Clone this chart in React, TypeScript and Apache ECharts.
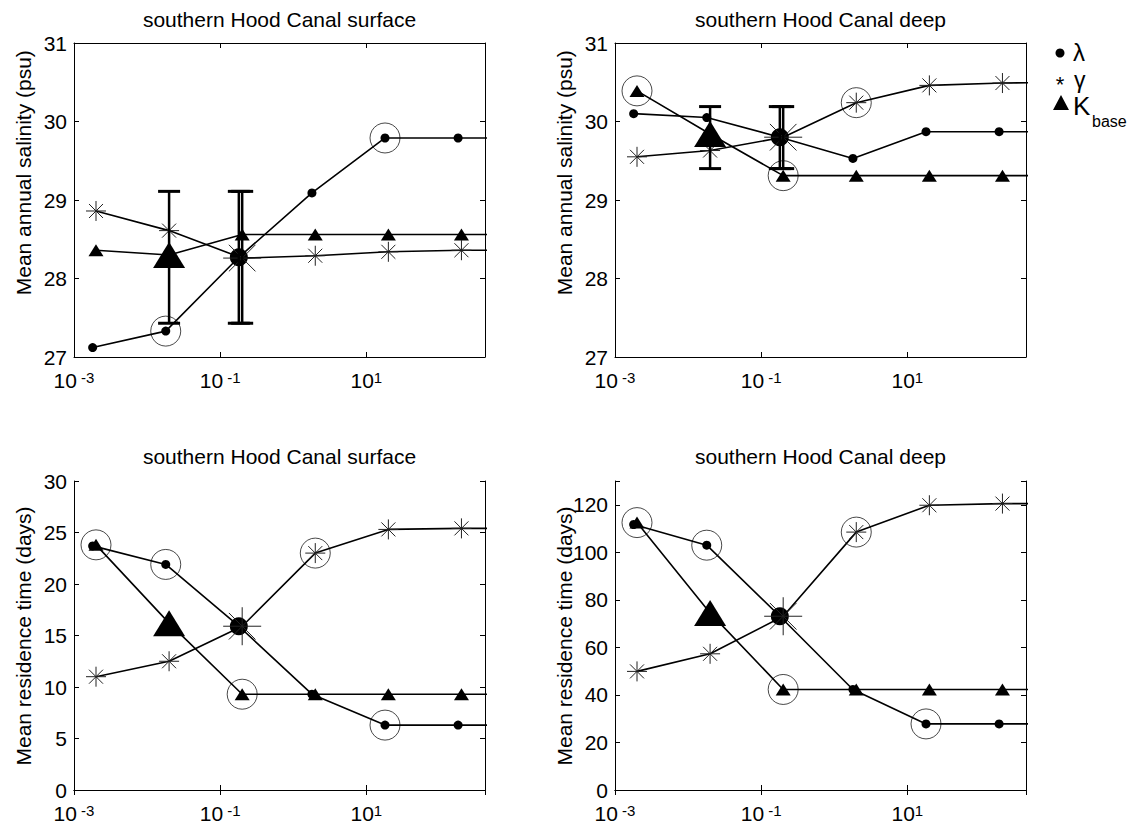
import React, { useEffect, useRef } from 'react';
import * as echarts from 'echarts';

// x positions of the parameter values (log scale); last point lies beyond the axis
const xLambda = [0.0018, 0.018, 0.18, 1.8, 18, 180, 1800];
const xGamma = [0.002, 0.02, 0.2, 2, 20, 200, 2000];
const xK = [0.002, 0.02, 0.2, 2, 20, 200, 2000];

// base-case index per parameter (drawn with large marker)
const baseLambda = 2;
const baseGamma = 2;
const baseK = 1;

// salinity, surface
const salSurfLambda = [27.12, 27.33, 28.27, 29.09, 29.79, 29.79, 29.79];
const salSurfGamma = [28.86, 28.61, 28.26, 28.29, 28.34, 28.36, 28.36];
const salSurfK = [28.36, 28.3, 28.56, 28.56, 28.56, 28.56, 28.56];
// salinity, deep
const salDeepLambda = [30.1, 30.05, 29.8, 29.53, 29.87, 29.87, 29.87];
const salDeepGamma = [29.55, 29.63, 29.8, 30.24, 30.46, 30.49, 30.5];
const salDeepK = [30.39, 29.84, 29.31, 29.31, 29.31, 29.31, 29.31];
// residence time, surface
const resSurfLambda = [23.7, 21.9, 15.9, 9.3, 6.3, 6.3, 6.3];
const resSurfGamma = [11.0, 12.5, 15.9, 23.0, 25.3, 25.4, 25.4];
const resSurfK = [23.8, 16.2, 9.3, 9.3, 9.3, 9.3, 9.3];
// residence time, deep
const resDeepLambda = [111.7, 103.0, 73.1, 42.3, 27.8, 27.8, 27.8];
const resDeepGamma = [49.9, 57.3, 73.1, 108.5, 119.8, 120.5, 120.5];
const resDeepK = [112.5, 74.5, 42.3, 42.3, 42.3, 42.3, 42.3];

// error bars: [parameter, index] positions with low / high values
const errPositions: [string, number][] = [['k', 1], ['lam', 2], ['gam', 2]];
const salSurfErrLow = [27.43, 27.43, 27.43];
const salSurfErrHigh = [29.11, 29.11, 29.11];
const salDeepErrLow = [29.4, 29.4, 29.4];
const salDeepErrHigh = [30.19, 30.19, 30.19];

// circled points: [parameter, index]
const salSurfCircles: [string, number][] = [['lam', 1], ['lam', 4]];
const salDeepCircles: [string, number][] = [['k', 0], ['k', 2], ['gam', 3]];
const resSurfCircles: [string, number][] = [['k', 0], ['lam', 1], ['k', 2], ['gam', 3], ['lam', 4]];
const resDeepCircles: [string, number][] = [['k', 0], ['lam', 1], ['k', 2], ['gam', 3], ['lam', 4]];

const titles = ['southern Hood Canal surface', 'southern Hood Canal deep', 'southern Hood Canal surface', 'southern Hood Canal deep'];
const yLabels = ['Mean annual salinity (psu)', 'Mean annual salinity (psu)', 'Mean residence time (days)', 'Mean residence time (days)'];
const xTickExponents = [-3, -1, 1];

const FONT = '"Liberation Sans", Arial, Helvetica, sans-serif';
const ASTERISK = 'path://M10 0 L10 20 M0 10 L20 10 M3 3 L17 17 M3 17 L17 3';

const xs: Record<string, number[]> = { lam: xLambda, gam: xGamma, k: xK };

const panels = [
  { left: 74, top: 43, height: 314, yMin: 27, yMax: 31, yInt: 1, lam: salSurfLambda, gam: salSurfGamma, k: salSurfK, circles: salSurfCircles, errLow: salSurfErrLow, errHigh: salSurfErrHigh, titleY: 19, labelY: 172.7 },
  { left: 615, top: 43, height: 314, yMin: 27, yMax: 31, yInt: 1, lam: salDeepLambda, gam: salDeepGamma, k: salDeepK, circles: salDeepCircles, errLow: salDeepErrLow, errHigh: salDeepErrHigh, titleY: 19, labelY: 172.7 },
  { left: 74, top: 481, height: 313, yMin: 0, yMax: 30, yInt: 5, lam: resSurfLambda, gam: resSurfGamma, k: resSurfK, circles: resSurfCircles, errLow: null, errHigh: null, titleY: 456, labelY: 636 },
  { left: 615, top: 481, height: 313, yMin: 0, yMax: 130, yInt: 20, lam: resDeepLambda, gam: resDeepGamma, k: resDeepK, circles: resDeepCircles, errLow: null, errHigh: null, titleY: 456, labelY: 636 },
];
const PW = 411;

export default function App() {
  const ref = useRef<HTMLDivElement>(null);
  useEffect(() => {
    document.body.style.margin = '0';
    const chart = echarts.init(ref.current!, null, { renderer: 'svg' });
    const grid: any[] = [];
    const xAxis: any[] = [];
    const yAxis: any[] = [];
    const series: any[] = [];
    const graphic: any[] = [];
    const axisLine = { show: true, lineStyle: { color: '#000', width: 1 } };
    const tick = { show: true, inside: true, length: 5, lineStyle: { color: '#000', width: 1 } };

    panels.forEach((p, i) => {
      grid.push({ left: p.left, top: p.top, width: PW, height: p.height });
      const xBase = { type: 'log', logBase: 10, min: 0.001, max: 420, interval: 2, gridIndex: i, axisLine, axisTick: tick, splitLine: { show: false }, minorTick: { show: false } };
      xAxis[i] = {
        ...xBase, position: 'bottom',
        axisLabel: {
          margin: 13, color: '#000', fontFamily: FONT,
          formatter: (v: number) => {
            const l = Math.log10(v);
            const e = Math.round(l);
            if (Math.abs(l - e) > 0.01 || !xTickExponents.includes(e)) return '';
            return `{b|10}{s|${e < 0 ? ' ' + e : e}}`;
          },
          rich: {
            b: { fontSize: 21, lineHeight: 21, fontFamily: FONT, color: '#000', verticalAlign: 'bottom' },
            s: { fontSize: 15, lineHeight: 15, fontFamily: FONT, color: '#000', padding: [0, 0, 13, 0], verticalAlign: 'top' },
          },
        },
      };
      xAxis[i + 4] = { ...xBase, position: 'top', axisLabel: { show: false } };
      const yBase = { type: 'value', min: p.yMin, max: p.yMax, interval: p.yInt, gridIndex: i, axisLine, axisTick: tick, splitLine: { show: false } };
      yAxis[i] = {
        ...yBase, position: 'left',
        axisLabel: {
          margin: 7, color: '#000', fontSize: 21, fontFamily: FONT,
          formatter: (v: number) => (Math.abs(((v - p.yMin) / p.yInt) - Math.round((v - p.yMin) / p.yInt)) > 1e-6 ? '' : String(v)),
        },
      };
      yAxis[i + 4] = { ...yBase, position: 'right', axisLabel: { show: false } };

      const common = { xAxisIndex: i, yAxisIndex: i, clip: true, animation: false, silent: true, z: 3 };
      series.push({
        ...common, type: 'line', name: 'lambda',
        data: p.lam.map((v, j) => [xLambda[j], v]),
        symbol: 'circle', showAllSymbol: true,
        symbolSize: (_v: any, prm: any) => (prm.dataIndex === baseLambda ? 18 : 9),
        lineStyle: { color: '#000', width: 1.6 },
        itemStyle: { color: '#000' },
      });
      series.push({
        ...common, type: 'line', name: 'gamma',
        data: p.gam.map((v, j) => [xGamma[j], v]),
        symbol: ASTERISK, showAllSymbol: true,
        symbolSize: (_v: any, prm: any) => (prm.dataIndex === baseGamma ? 38 : 20),
        lineStyle: { color: '#000', width: 1.6 },
        itemStyle: { color: '#000', borderColor: '#222', borderWidth: 1 },
      });
      series.push({
        ...common, type: 'line', name: 'K',
        data: p.k.map((v, j) => [xK[j], v]),
        symbol: 'triangle', showAllSymbol: true,
        symbolSize: (_v: any, prm: any) => (prm.dataIndex === baseK ? [32, 26] : [15, 12]),
        lineStyle: { color: '#000', width: 1.6 },
        itemStyle: { color: '#000' },
      });
      series.push({
        ...common, type: 'scatter', z: 4,
        data: p.circles.map(([key, j]) => [xs[key][j], (p as any)[key][j]]),
        symbol: 'circle', symbolSize: 30,
        itemStyle: { color: 'rgba(0,0,0,0)', borderColor: '#000', borderWidth: 0.9 },
      });
      if (p.errLow) {
        series.push({
          ...common, type: 'custom', z: 5,
          data: errPositions.map(([key, j], n) => [xs[key][j], p.errLow![n], p.errHigh![n]]),
          encode: { x: 0, y: [1, 2] },
          renderItem: (_params: any, api: any) => {
            const x = api.value(0);
            const a = api.coord([x, api.value(2)]);
            const b = api.coord([x, api.value(1)]);
            const hw = 11;
            const st = { stroke: '#000', lineWidth: 3 };
            return {
              type: 'group',
              children: [
                { type: 'line', shape: { x1: a[0], y1: a[1], x2: b[0], y2: b[1] }, style: { stroke: '#000', lineWidth: 2.5 } },
                { type: 'line', shape: { x1: a[0] - hw, y1: a[1], x2: a[0] + hw, y2: a[1] }, style: st },
                { type: 'line', shape: { x1: b[0] - hw, y1: b[1], x2: b[0] + hw, y2: b[1] }, style: st },
              ],
            };
          },
        });
      }
      graphic.push({
        type: 'text', x: p.left + PW / 2, y: p.titleY,
        style: { text: titles[i], font: `21px ${FONT}`, fill: '#000', textAlign: 'center', textVerticalAlign: 'middle' },
      });
      graphic.push({
        type: 'text', x: p.left - 50.5, y: p.labelY, rotation: Math.PI / 2,
        style: { text: yLabels[i], font: `21px ${FONT}`, fill: '#000', textAlign: 'center', textVerticalAlign: 'middle' },
      });
    });

    // legend
    graphic.push({ type: 'circle', shape: { cx: 1060, cy: 53, r: 4.5 }, style: { fill: '#000' } });
    graphic.push({ type: 'text', x: 1073, y: 52, style: { text: 'λ', font: `24px ${FONT}`, fill: '#000', textVerticalAlign: 'middle' } });
    graphic.push({ type: 'text', x: 1060, y: 84, style: { text: '*', font: `22px ${FONT}`, fill: '#000', textAlign: 'center', textVerticalAlign: 'middle' } });
    graphic.push({ type: 'text', x: 1074, y: 80, style: { text: 'γ', font: `23px ${FONT}`, fill: '#000', textVerticalAlign: 'middle' } });
    graphic.push({ type: 'polygon', shape: { points: [[1053, 110], [1069, 110], [1061, 95]] }, style: { fill: '#000' } });
    graphic.push({ type: 'text', x: 1073, y: 106, style: { text: 'K', font: `26px ${FONT}`, fill: '#000', textVerticalAlign: 'middle' } });
    graphic.push({ type: 'text', x: 1092, y: 121, style: { text: 'base', font: `16px ${FONT}`, fill: '#000', textVerticalAlign: 'middle' } });

    chart.setOption({ animation: false, backgroundColor: '#fff', grid, xAxis, yAxis, series, graphic });
    return () => chart.dispose();
  }, []);
  return <div ref={ref} style={{ position: 'absolute', left: 0, top: 0, width: 1130, height: 831 }} />;
}
